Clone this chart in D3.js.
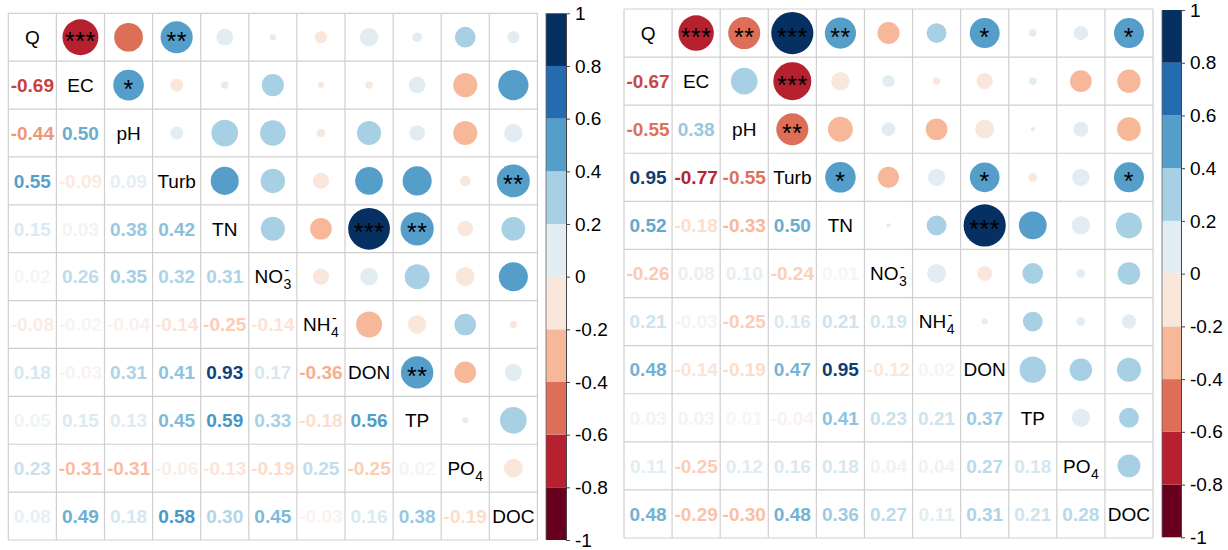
<!DOCTYPE html>
<html>
<head>
<meta charset="utf-8">
<script src="https://cdn.jsdelivr.net/npm/d3@7"></script>
<style>
  html, body { margin: 0; padding: 0; background: #fff; }
  svg { display: block; font-family: "Liberation Sans", Arial, Helvetica, sans-serif; }
</style>
</head>
<body>
<svg id="chart" width="1228" height="550"></svg>
<script>
// ---------- DATA ----------
const variables = ["Q", "EC", "pH", "Turb", "TN", "NO3", "NH4", "DON", "TP", "PO4", "DOC"];

// lower-triangle correlations, left matrix (row i, columns 0..i-1)
const corrLeft = [
  [],
  [-0.69],
  [-0.44, 0.50],
  [0.55, -0.09, 0.09],
  [0.15, 0.03, 0.38, 0.42],
  [0.02, 0.26, 0.35, 0.32, 0.31],
  [-0.08, -0.02, -0.04, -0.14, -0.25, -0.14],
  [0.18, -0.03, 0.31, 0.41, 0.93, 0.17, -0.36],
  [0.05, 0.15, 0.13, 0.45, 0.59, 0.33, -0.18, 0.56],
  [0.23, -0.31, -0.31, -0.06, -0.13, -0.19, 0.25, -0.25, 0.02],
  [0.08, 0.49, 0.18, 0.58, 0.30, 0.45, -0.03, 0.16, 0.38, -0.19]
];

// lower-triangle correlations, right matrix
const corrRight = [
  [],
  [-0.67],
  [-0.55, 0.38],
  [0.95, -0.77, -0.55],
  [0.52, -0.18, -0.33, 0.50],
  [-0.26, 0.08, 0.10, -0.24, 0.01],
  [0.21, -0.03, -0.25, 0.16, 0.21, 0.19],
  [0.48, -0.14, -0.19, 0.47, 0.95, -0.12, 0.02],
  [0.03, 0.03, 0.01, -0.04, 0.41, 0.23, 0.21, 0.37],
  [0.11, -0.25, 0.12, 0.16, 0.18, 0.04, 0.04, 0.27, 0.18],
  [0.48, -0.29, -0.30, 0.48, 0.36, 0.27, 0.11, 0.31, 0.21, 0.28]
];

// significance marks (row variable, column variable, stars)
const sigLeft = [
  ["Q", "EC", "***"], ["Q", "Turb", "**"], ["EC", "pH", "*"],
  ["Turb", "DOC", "**"], ["TN", "DON", "***"], ["TN", "TP", "**"], ["DON", "TP", "**"]
];
const sigRight = [
  ["Q", "EC", "***"], ["Q", "pH", "**"], ["Q", "Turb", "***"], ["Q", "TN", "**"],
  ["Q", "DON", "*"], ["Q", "DOC", "*"], ["EC", "Turb", "***"], ["pH", "Turb", "**"],
  ["Turb", "TN", "*"], ["Turb", "DON", "*"], ["Turb", "DOC", "*"], ["TN", "DON", "***"]
];

const tickValues = [1, 0.8, 0.6, 0.4, 0.2, 0, -0.2, -0.4, -0.6, -0.8, -1];
const tickLabels = ["1", "0.8", "0.6", "0.4", "0.2", "0", "-0.2", "-0.4", "-0.6", "-0.8", "-1"];

// ---------- COLOURS ----------
const rdbu11 = ["#67001F", "#B2182B", "#D6604D", "#F4A582", "#FDDBC7", "#F7F7F7",
                "#D1E5F0", "#92C5DE", "#4393C3", "#2166AC", "#053061"];
const contColor = d3.scaleLinear()
  .domain(d3.range(11).map(i => -1 + i * 0.2))
  .range(rdbu11)
  .interpolate(d3.interpolateRgb)
  .clamp(true);
// 10 discrete colours = ramp of the 11 colours sampled at 10 points
const rampIdx = d3.scaleLinear().domain([0, 10]).range([-1, 1]);
const binColors = d3.range(10).map(i => contColor(rampIdx(i * 10 / 9)));
const binScale = d3.scaleQuantize().domain([-1, 1]).range(binColors);

const fmt = d3.formatLocale({ decimal: ".", thousands: ",", grouping: [3], currency: ["", ""], minus: "-" }).format(".2f");
const svg = d3.select("#chart");
svg.append("rect").attr("width", 1228).attr("height", 550).attr("fill", "#fff");

function drawLabel(g, name, cx, cy) {
  const lg = g.append("g");
  const fs = 19;
  let base = name, sub = null, sup = null;
  if (name === "NO3") { base = "NO"; sub = "3"; sup = "-"; }
  if (name === "NH4") { base = "NH"; sub = "4"; sup = "-"; }
  if (name === "PO4") { base = "PO"; sub = "4"; }
  const t = lg.append("text").attr("x", 0).attr("y", 0)
    .attr("font-size", fs).attr("fill", "#000").text(base);
  let w = t.node().getComputedTextLength();
  let extra = 0;
  if (sub) {
    const s = lg.append("text").attr("x", w + 0.5).attr("y", 6)
      .attr("font-size", 14).attr("fill", "#000").text(sub);
    extra = Math.max(extra, s.node().getComputedTextLength() + 0.5);
  }
  if (sup) {
    const s2 = lg.append("text").attr("x", w + 1.5).attr("y", -8)
      .attr("font-size", 14).attr("fill", "#000").text(sup);
    extra = Math.max(extra, s2.node().getComputedTextLength() + 1.5);
  }
  const total = w + extra;
  lg.attr("transform", `translate(${cx - total / 2},${cy + 6.8})`);
}

function drawPanel(lower, sig, cfg) {
  const g = svg.append("g");
  const x = d3.scaleBand().domain(variables).range([cfg.x0, cfg.x1]);
  const y = d3.scaleBand().domain(variables).range([cfg.y0, cfg.y1]);
  const bw = x.bandwidth(), bh = y.bandwidth();
  const n = variables.length;

  // full matrix
  const full = variables.map((_, i) => variables.map((_, j) =>
    i === j ? 1 : (i > j ? lower[i][j] : lower[j][i])));

  // grid
  const gridG = g.append("g").attr("stroke", "#cfcfcf").attr("stroke-width", 1.2);
  for (let k = 0; k <= n; k++) {
    const xx = k < n ? x(variables[k]) : cfg.x1;
    const yy = k < n ? y(variables[k]) : cfg.y1;
    gridG.append("line").attr("x1", xx).attr("x2", xx).attr("y1", cfg.y0).attr("y2", cfg.y1);
    gridG.append("line").attr("y1", yy).attr("y2", yy).attr("x1", cfg.x0).attr("x2", cfg.x1);
  }

  const sigMap = new Map(sig.map(s => [s[0] + "|" + s[1], s[2]]));

  for (let i = 0; i < n; i++) {
    for (let j = 0; j < n; j++) {
      const cx = x(variables[j]) + bw / 2;
      const cy = y(variables[i]) + bh / 2;
      const v = full[i][j];
      if (i === j) {
        drawLabel(g, variables[i], cx, cy);
      } else if (i > j) {
        g.append("text").attr("x", cx).attr("y", cy + 6.8)
          .attr("text-anchor", "middle").attr("font-size", 19).attr("font-weight", "bold")
          .attr("fill", contColor(v)).text(fmt(v));
      } else {
        g.append("circle").attr("cx", cx).attr("cy", cy)
          .attr("r", Math.sqrt(Math.abs(v)) * 0.45 * bw)
          .attr("fill", binScale(v));
        const st = sigMap.get(variables[i] + "|" + variables[j]);
        if (st) {
          g.append("text").attr("x", cx).attr("y", cy + 12.5)
            .attr("text-anchor", "middle").attr("font-size", 25)
            .attr("letter-spacing", "0.5px")
            .attr("fill", "#000").text(st);
        }
      }
    }
  }

  // colour bar
  const yb = d3.scaleLinear().domain([-1, 1]).range([cfg.by1, cfg.by0]);
  const bins = d3.range(10).map(i => [-1 + i * 0.2, -1 + (i + 1) * 0.2]);
  g.append("g").selectAll("rect").data(bins).join("rect")
    .attr("x", cfg.bx).attr("width", cfg.bwid)
    .attr("y", d => yb(d[1])).attr("height", d => yb(d[0]) - yb(d[1]))
    .attr("fill", d => binScale((d[0] + d[1]) / 2));
  g.append("line").attr("x1", cfg.bx).attr("x2", cfg.bx)
    .attr("y1", cfg.by0).attr("y2", cfg.by1).attr("stroke", "#666").attr("stroke-width", 0.8);
  const axis = d3.axisRight(yb).tickValues(tickValues)
    .tickFormat((d, i) => tickLabels[i]).tickSize(4).tickSizeOuter(0).tickPadding(5);
  const ag = g.append("g").attr("transform", `translate(${cfg.bx + cfg.bwid},0)`).call(axis);
  ag.select(".domain").attr("stroke", "#444");
  ag.selectAll(".tick line").attr("stroke", "#444");
  ag.selectAll(".tick text").attr("font-size", 19).attr("fill", "#000")
    .attr("font-family", '"Liberation Sans", Arial, Helvetica, sans-serif');
}

drawPanel(corrLeft, sigLeft, { x0: 8.3, x1: 537.4, y0: 13.3, y1: 540, bx: 546, bwid: 20, by0: 13.3, by1: 540 });
drawPanel(corrRight, sigRight, { x0: 624, x1: 1153, y0: 9, y1: 538, bx: 1162, bwid: 19, by0: 10, by1: 537.3 });
</script>
</body>
</html>
